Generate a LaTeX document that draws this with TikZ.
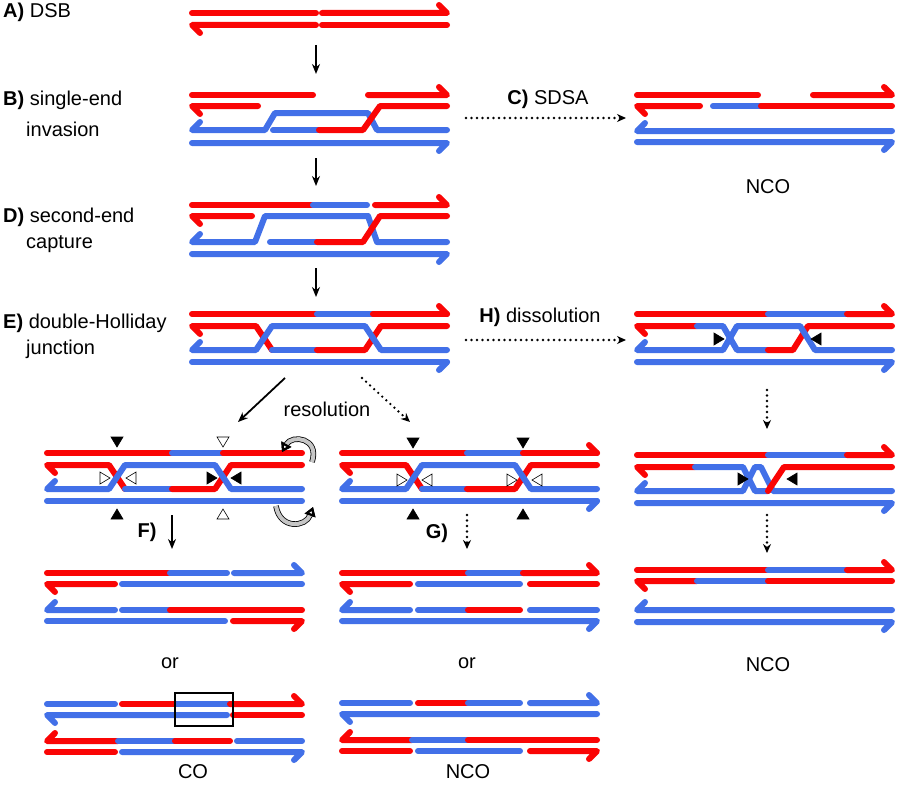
\documentclass[tikz,border=0pt]{standalone}
\usepackage{fontspec}
\setmainfont{Liberation Sans}
\usetikzlibrary{arrows.meta}
\definecolor{dnared}{RGB}{250,5,5}
\definecolor{dnablue}{RGB}{66,112,232}
\tikzset{
  rd/.style={draw=dnared,line width=6pt,line cap=round,line join=round},
  bl/.style={draw=dnablue,line width=6pt,line cap=round,line join=round},
  step arrow/.style={line width=1.8pt,-{Stealth[length=10pt,width=8pt]}},
  dot arrow/.style={line width=2.6pt,line cap=round,dash pattern=on 0pt off 5.5pt,-{Stealth[length=9pt,width=8pt]}},
  rotar/.style={line width=4pt,draw=gray!45,preaction={draw=black,line width=5.6pt},
    -{Triangle[color=black,open,fill=white,length=9pt,width=11pt]}},
  lbl/.style={font=\fontsize{20pt}{22pt}\selectfont,inner sep=0pt}
}
% double-Holliday junction: origin x, origin y, left and right crossing
\newcommand\dhj[4]{%
  \begin{scope}[shift={(#1,#2)}]
    \draw[rd] (0,0)--(125,0); \draw[bl] (125,0)--(#4,0); \draw[rd] (#4,0)--(255,0);
    \draw[rd] (8,20)--(0,12)--(#3-8,12)--(#3+8,36);
    \draw[bl] (#3+8,36)--(125,36);
    \draw[rd] (125,36)--(#4-8,36)--(#4+8,12)--(255,12);
    \draw[bl] (8,28)--(0,36)--(#3-8,36)--(#3+8,12)--(#4-8,12)--(#4+8,36)--(255,36);
    \draw[bl] (0,48)--(255,48);
  \end{scope}}
% cut marker: style, x, y, rotation (0 = pointing down)
\newcommand\mk[4]{\draw[#1,line width=.6pt,rotate around={#4:(#2,#3)}]
  (#2-6,#3-5) -- (#2+6,#3-5) -- (#2,#3+5) -- cycle;}
\begin{document}
\begin{tikzpicture}[x=1pt,y=-1pt]
\useasboundingbox (0,0) rectangle (897,800);
% labels
\node[lbl,anchor=west] (la) at (3,12) {\textbf{A)} DSB};
\node[lbl,anchor=west] (lb) at (3,100) {\textbf{B)} single-end};
\node[lbl,anchor=west] (lb2) at (26,129) {invasion};
\node[lbl,anchor=west] (ld) at (3,217) {\textbf{D)} second-end};
\node[lbl,anchor=west] (ld2) at (26,244) {capture};
\node[lbl,anchor=west] (le) at (3,323) {\textbf{E)} double-Holliday};
\node[lbl,anchor=west] (le2) at (26,349) {junction};
\node[lbl] (lc) at (548,99) {\textbf{C)} SDSA};
\node[lbl] (lh) at (540,317) {\textbf{H)} dissolution};
\node[lbl] (lres) at (327,409) {resolution};
\node[lbl] (lf) at (147,532) {\textbf{F)}};
\node[lbl] (lg) at (437,533) {\textbf{G)}};
\node[lbl] (or1) at (170,663) {or};
\node[lbl] (or2) at (467,663) {or};
\node[lbl] (nco1) at (768,187) {NCO};
\node[lbl] (nco2) at (768,665) {NCO};
\node[lbl] (co) at (193,772) {CO};
\node[lbl] (nco3) at (468,772) {NCO};
% A
\begin{scope}[shift={(192,13)}]
  \draw[rd] (0,0)--(124,0); \draw[rd] (130,0)--(255,0)--(247,-8);
  \draw[rd] (8,20)--(0,12)--(124,12); \draw[rd] (130,12)--(255,12);
\end{scope}
% B
\begin{scope}[shift={(192,95)}]
  \draw[rd] (0,0)--(121,0); \draw[rd] (176,0)--(255,0)--(247,-8);
  \draw[rd] (8,19)--(0,11)--(66,11);
  \draw[bl] (8,27)--(0,35)--(73,35)--(83,18)--(176,18)--(185,35)--(255,35);
  \draw[bl] (81,35)--(127,35);
  \draw[rd] (127,35)--(171,35)--(188,11)--(255,11);
  \draw[bl] (0,48)--(255,48)--(247,56);
\end{scope}
% C
\begin{scope}[shift={(637,95)}]
  \draw[rd] (0,0)--(121,0); \draw[rd] (176,0)--(255,0)--(247,-8);
  \draw[rd] (8,19)--(0,11)--(63,11);
  \draw[bl] (76,11)--(124,11); \draw[rd] (124,11)--(255,11);
  \draw[bl] (8,28)--(0,36)--(255,36);
  \draw[bl] (0,47)--(255,47)--(247,55);
\end{scope}
% D
\begin{scope}[shift={(192,205)}]
  \draw[rd] (0,0)--(121,0); \draw[bl] (121,0)--(175,0); \draw[rd] (183,0)--(255,0)--(247,-8);
  \draw[rd] (8,19)--(0,11)--(60,11);
  \draw[bl] (8,29)--(0,37)--(63,37)--(73,11)--(176,11)--(185,37)--(255,37);
  \draw[bl] (78,37)--(125,37);
  \draw[rd] (125,37)--(171,37)--(188,11)--(255,11);
  \draw[bl] (0,49)--(255,49)--(247,57);
\end{scope}
% E, F, G
\dhj{192}{314}{72}{181}
\draw[rd] (447,314)--(439,306); \draw[bl] (447,362)--(439,370);
\dhj{47}{453}{70}{176}
\dhj{342}{453}{72}{181}
\draw[rd] (597,453)--(589,445); \draw[bl] (597,501)--(589,509);
\draw[rotar] (312,462) .. controls (320,438) and (292,434) .. (282,452);
\draw[rotar] (276,506) .. controls (280,530) and (306,527) .. (313,507);
% cut markers
\mk{fill=black}{117}{442}{0} \mk{fill=black}{117}{514}{180}
\mk{fill=white,draw=black}{223}{442}{0} \mk{fill=white,draw=black}{223}{514}{180}
\mk{fill=white,draw=black}{105}{478}{90} \mk{fill=white,draw=black}{131}{478}{-90}
\mk{fill=black}{212}{478}{90} \mk{fill=black}{236}{478}{-90}
\mk{fill=black}{413}{443}{0} \mk{fill=black}{523}{443}{0}
\mk{fill=black}{413}{514}{180} \mk{fill=black}{523}{514}{180}
\mk{fill=white,draw=black}{402}{480}{90} \mk{fill=white,draw=black}{427}{480}{-90}
\mk{fill=white,draw=black}{512}{480}{90} \mk{fill=white,draw=black}{537}{480}{-90}
% H
\begin{scope}[shift={(637,314)}]
  \draw[rd] (0,0)--(131,0); \draw[bl] (131,0)--(210,0); \draw[rd] (210,0)--(255,0)--(247,-8);
  \draw[rd] (8,20)--(0,12)--(60,12);
  \draw[bl] (60,12)--(86,12)--(100,36)--(131,36);
  \draw[rd] (131,36)--(156,36)--(171,12)--(255,12);
  \draw[bl] (8,28)--(0,36)--(86,36)--(100,12)--(163,12)--(178,36)--(255,36);
  \draw[bl] (0,48)--(255,48)--(247,56);
\end{scope}
\mk{fill=black}{719}{339}{90} \mk{fill=black}{816}{339}{-90}
\begin{scope}[shift={(637,455)}]
  \draw[rd] (0,0)--(131,0); \draw[bl] (131,0)--(210,0); \draw[rd] (210,0)--(255,0)--(247,-8);
  \draw[rd] (8,20)--(0,12)--(58,12);
  \draw[bl] (58,12)--(106,12)--(118,36)--(131,36);
  \draw[bl] (8,28)--(0,36)--(106,36)--(118,12)--(124,12)--(136,36)--(255,36);
  \draw[rd] (131,36)--(147,12)--(255,12);
  \draw[bl] (0,48)--(255,48)--(247,56);
\end{scope}
\mk{fill=black}{743}{479}{90} \mk{fill=black}{792}{479}{-90}
\begin{scope}[shift={(637,570)}]
  \draw[rd] (0,0)--(131,0); \draw[bl] (131,0)--(210,0); \draw[rd] (210,0)--(255,0)--(247,-8);
  \draw[rd] (8,19)--(0,11)--(60,11); \draw[bl] (60,11)--(131,11); \draw[rd] (131,11)--(255,11);
  \draw[bl] (8,32)--(0,40)--(255,40);
  \draw[bl] (0,52)--(255,52)--(247,60);
\end{scope}
% F products
\begin{scope}[shift={(47,573)}]
  \draw[rd] (0,0)--(123,0); \draw[bl] (123,0)--(180,0); \draw[bl] (187,0)--(255,0)--(247,-8);
  \draw[rd] (8,19)--(0,11)--(68,11); \draw[bl] (75,11)--(255,11);
  \draw[bl] (8,29)--(0,37)--(68,37); \draw[bl] (75,37)--(123,37); \draw[rd] (123,37)--(255,37);
  \draw[bl] (0,48)--(178,48); \draw[rd] (186,48)--(255,48)--(247,56);
\end{scope}
\begin{scope}[shift={(47,704)}]
  \draw[bl] (0,0)--(68,0); \draw[rd] (75,0)--(130,0); \draw[bl] (130,0)--(183,0);
  \draw[rd] (183,0)--(255,0)--(247,-8);
  \draw[bl] (8,19)--(0,11)--(180,11); \draw[rd] (186,11)--(255,11);
  \draw[rd] (8,29)--(0,37)--(71,37); \draw[bl] (71,37)--(128,37); \draw[rd] (128,37)--(183,37);
  \draw[bl] (190,37)--(255,37);
  \draw[rd] (0,48)--(68,48); \draw[bl] (75,48)--(255,48)--(247,56);
\end{scope}
\draw[line width=2pt] (175,693) rectangle (233,726);
% G products
\begin{scope}[shift={(342,573)}]
  \draw[rd] (0,0)--(126,0); \draw[bl] (126,0)--(181,0); \draw[rd] (181,0)--(255,0)--(247,-8);
  \draw[rd] (8,19)--(0,11)--(68,11); \draw[bl] (76,11)--(178,11); \draw[rd] (188,11)--(255,11);
  \draw[bl] (8,29)--(0,37)--(68,37); \draw[bl] (76,37)--(126,37); \draw[rd] (126,37)--(178,37);
  \draw[bl] (188,37)--(255,37);
  \draw[bl] (0,48)--(255,48)--(247,56);
\end{scope}
\begin{scope}[shift={(342,703)}]
  \draw[bl] (0,0)--(68,0); \draw[rd] (76,0)--(126,0); \draw[bl] (126,0)--(178,0);
  \draw[bl] (188,0)--(255,0)--(247,-8);
  \draw[bl] (8,19)--(0,11)--(255,11);
  \draw[rd] (8,29)--(0,37)--(70,37); \draw[bl] (70,37)--(126,37); \draw[rd] (126,37)--(255,37);
  \draw[rd] (0,48)--(68,48); \draw[bl] (76,48)--(178,48); \draw[rd] (188,48)--(255,48)--(247,56);
\end{scope}
% arrows
\coordinate (a1) at (316,45); \coordinate (a2) at (316,74);
\coordinate (b1) at (316,158); \coordinate (b2) at (316,186);
\coordinate (d1) at (316,268); \coordinate (d2) at (316,297);
\coordinate (f1) at (172,515); \coordinate (f2) at (172,549);
\coordinate (r1) at (285,378); \coordinate (r2) at (238,422);
\coordinate (s1) at (362,378); \coordinate (s2) at (410,422);
\coordinate (c1) at (466,118); \coordinate (c2) at (626,118);
\coordinate (h1) at (466,340); \coordinate (h2) at (626,340);
\coordinate (v1) at (767,390); \coordinate (v2) at (767,429);
\coordinate (w1) at (767,515); \coordinate (w2) at (767,553);
\coordinate (g1) at (467,515); \coordinate (g2) at (467,549);
\draw[step arrow] (a1) -- (a2);
\draw[step arrow] (b1) -- (b2);
\draw[step arrow] (d1) -- (d2);
\draw[step arrow] (f1) -- (f2);
\draw[step arrow] (r1) -- (r2);
\draw[dot arrow] (s1) -- (s2);
\draw[dot arrow] (c1) -- (c2);
\draw[dot arrow] (h1) -- (h2);
\draw[dot arrow] (v1) -- (v2);
\draw[dot arrow] (w1) -- (w2);
\draw[dot arrow] (g1) -- (g2);
\end{tikzpicture}
\end{document}
